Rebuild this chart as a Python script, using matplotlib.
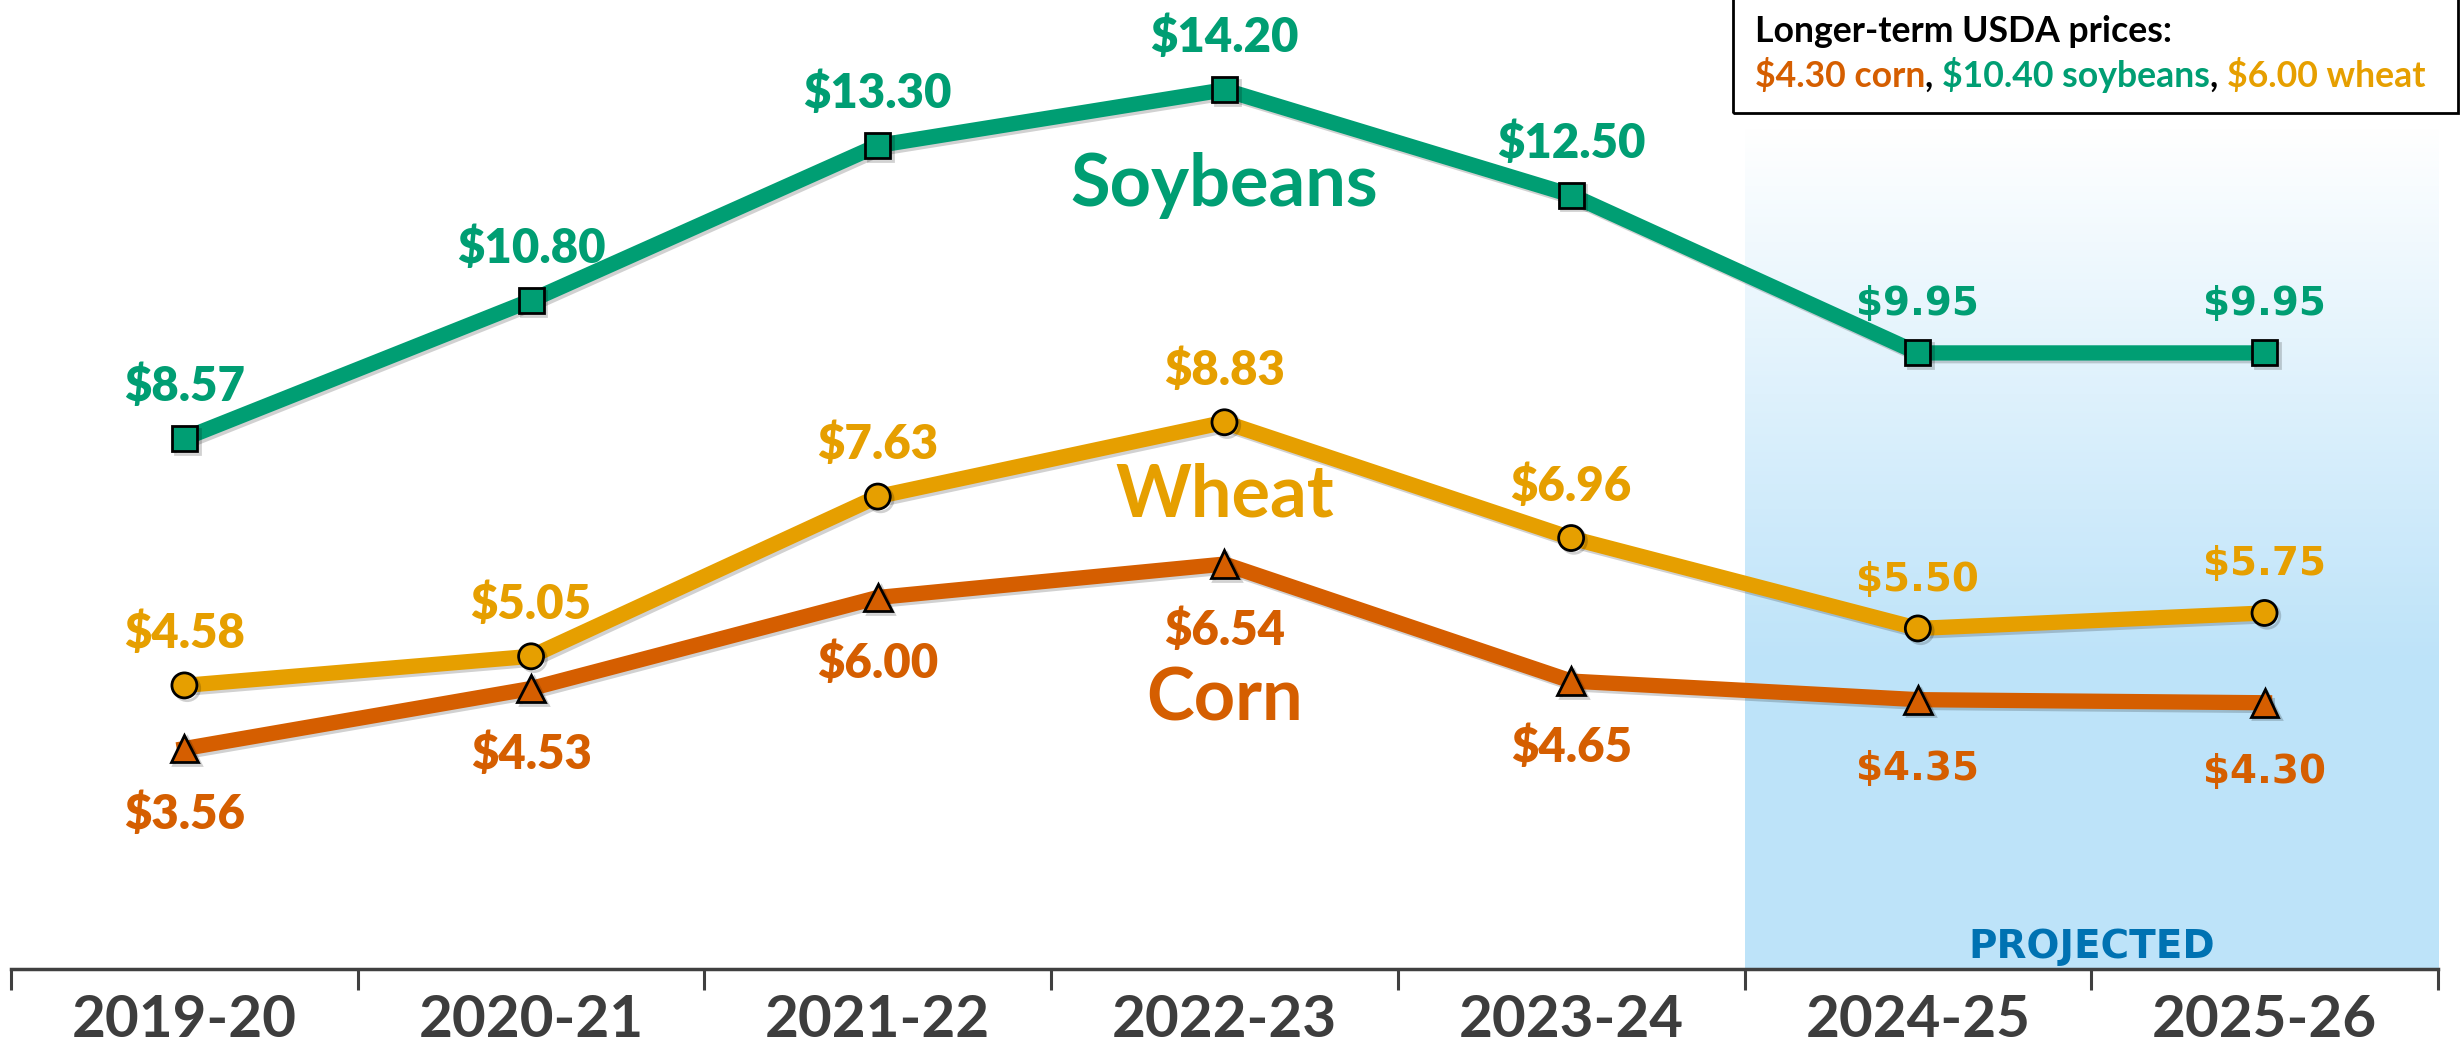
import matplotlib.pyplot as plt
import matplotlib.patheffects as pe
import matplotlib.transforms as mtransforms
from matplotlib.patches import Rectangle
import numpy as np

years = ["2019-20", "2020-21", "2021-22", "2022-23", "2023-24", "2024-25", "2025-26"]
soybeans = [8.57, 10.80, 13.30, 14.20, 12.50, 9.95, 9.95]
wheat = [4.58, 5.05, 7.63, 8.83, 6.96, 5.50, 5.75]
corn = [3.56, 4.53, 6.00, 6.54, 4.65, 4.35, 4.30]
n_actual = 5  # first five marketing years are actual, the rest projected

GREEN = "#009E73"
GOLD = "#E69F00"
ORANGE = "#D55E00"
BLUE = "#0072B2"
GREY = "#3d3d3d"
SANS = "Lato"

fig = plt.figure(figsize=(24.63, 10.48), dpi=100)
ax = fig.add_axes([0.0045, 0.0754, 0.9853, 0.9246])
ax.set_xlim(-0.5, 6.5)
ax.set_ylim(0, 15.65)

# projected shading, fading to white at the top
top, full = 13.6, 5.0
yy = np.linspace(top, 0, 300)
alpha = np.clip((top - yy) / (top - full), 0, 1)
grad = np.zeros((300, 1, 4))
grad[:, 0, :3] = [0.745, 0.894, 0.980]
grad[:, 0, 3] = alpha
ax.imshow(grad, extent=[4.5, 6.5, 0, top], aspect="auto", zorder=0, interpolation="bilinear")
ax.text(5.5, 0.17, "PROJECTED", color=BLUE, fontsize=28, fontweight="bold",
        ha="center", va="baseline", family="DejaVu Sans")

x = np.arange(len(years))
shadow = [pe.SimpleLineShadow(offset=(2, -2), shadow_color="k", alpha=0.18), pe.Normal()]

series = [
    (soybeans, GREEN, "s", 18, 27),
    (wheat, GOLD, "o", 18, 27),
    (corn, ORANGE, "^", 20, -58),
]
for vals, col, mk, ms, off in series:
    ax.plot(x, vals, color=col, lw=11, marker=mk, ms=ms, mec="black", mew=2,
            zorder=3, path_effects=shadow, solid_joinstyle="round")
    shifted = mtransforms.offset_copy(ax.transData, fig=fig, x=0, y=off, units="points")
    for xi, v in zip(x, vals):
        if xi < n_actual:
            fam, fs, fw = SANS, 34, "heavy"
        else:
            fam, fs, fw = "DejaVu Sans", 28, "bold"
        ax.text(xi, v, f"${v:.2f}", family=fam, fontweight=fw, fontsize=fs,
                color=col, ha="center", va="baseline", transform=shifted)

ax.text(3, 12.33, "Soybeans", color=GREEN, fontsize=52, fontweight="bold",
        ha="center", va="baseline", family=SANS)
ax.text(3, 7.30, "Wheat", color=GOLD, fontsize=52, fontweight="bold",
        ha="center", va="baseline", family=SANS)
ax.text(3, 4.02, "Corn", color=ORANGE, fontsize=52, fontweight="bold",
        ha="center", va="baseline", family=SANS)

# axis
for s in ["top", "left", "right"]:
    ax.spines[s].set_visible(False)
ax.spines["bottom"].set_color("#404040")
ax.spines["bottom"].set_linewidth(2.5)
ax.set_yticks([])
ax.set_xticks(x)
ax.set_xticklabels(years, fontsize=42, fontweight="bold", color=GREY, family=SANS)
ax.tick_params(axis="x", which="major", length=0, pad=18)
ax.set_xticks(np.arange(-0.5, 7, 1), minor=True)
ax.tick_params(axis="x", which="minor", length=15, width=2.2, color="#404040")

# note box at top right
fs_note = 25.7
fig.patches.append(Rectangle((0.7036, 0.892), 0.2944, 0.2, transform=fig.transFigure,
                             fill=False, edgecolor="black", lw=2, clip_on=False))
fig.text(0.7125, 0.970, "Longer-term USDA prices:", fontsize=fs_note, fontweight="bold",
         color="black", va="center", family=SANS)
parts = [("$4.30 corn", ORANGE), (", ", "black"), ("$10.40 soybeans", GREEN),
         (", ", "black"), ("$6.00 wheat", GOLD)]
prev = fig.text(0.7125, 0.928, parts[0][0], fontsize=fs_note, fontweight="bold",
                color=parts[0][1], va="center", family=SANS)
for txt, col in parts[1:]:
    prev = ax.annotate(txt, xy=(1, 0), xycoords=prev, va="bottom", ha="left",
                       fontsize=fs_note, fontweight="bold", color=col, family=SANS)

fig.savefig("out.png", dpi=100)
